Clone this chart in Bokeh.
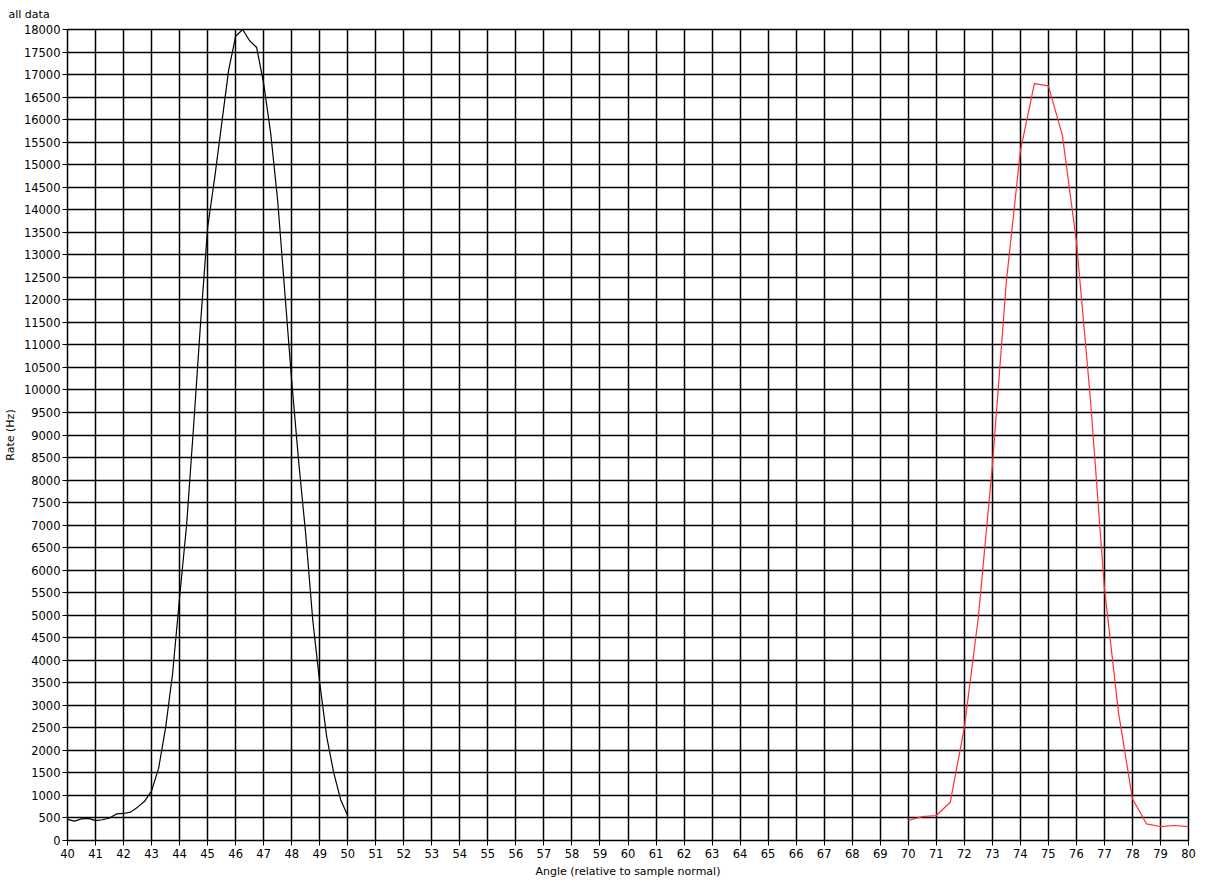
from bokeh.plotting import figure
from bokeh.models import Range1d, FixedTicker
from bokeh.embed import file_html
from bokeh.resources import INLINE

# Black series (first scan)
black_angle = [40.00, 40.25, 40.50, 40.75, 41.00, 41.25, 41.50, 41.75, 42.00, 42.25,
               42.50, 42.75, 43.00, 43.25, 43.50, 43.75, 44.00, 44.25, 44.50, 44.75,
               45.00, 45.25, 45.50, 45.75, 46.00, 46.25, 46.50, 46.75, 47.00, 47.25,
               47.50, 47.75, 48.00, 48.25, 48.50, 48.75, 49.00, 49.25, 49.50, 49.75, 50.00]
black_rate = [470, 430, 480, 490, 440, 460, 500, 590, 600, 630,
              740, 870, 1100, 1600, 2500, 3700, 5400, 7000, 9200, 11500,
              13600, 14700, 15900, 17100, 17850, 18000, 17750, 17600, 16800, 15700,
              14200, 12200, 10200, 8400, 6800, 4900, 3500, 2300, 1500, 900, 550]

# Red series (second scan)
red_angle = [70.0, 70.5, 71.0, 71.5, 72.0, 72.5, 73.0, 73.5, 74.0, 74.5,
             75.0, 75.5, 76.0, 76.5, 77.0, 77.5, 78.0, 78.5, 79.0, 79.5, 80.0]
red_rate = [444, 530, 555, 850, 2500, 4950, 8300, 12400, 15300, 16800,
            16750, 15650, 13300, 9800, 5600, 2850, 925, 370, 310, 333, 310]

x_ticks = list(range(40, 81))
y_ticks = list(range(0, 18001, 500))

FONT = "DejaVu Sans"

p = figure(width=1212, height=883, output_backend="svg", toolbar_location=None,
           x_range=Range1d(40, 80), y_range=Range1d(0, 18000),
           min_border_left=67, min_border_right=24, min_border_top=29, min_border_bottom=43,
           title="all data")

p.title.text_font = FONT
p.title.text_font_size = "11px"
p.title.text_font_style = "normal"
p.title.text_color = "black"
p.title.offset = -59
p.title.standoff = 14
p.title.vertical_align = "top"

p.background_fill_color = "white"
p.border_fill_color = "white"
p.outline_line_color = "black"
p.outline_line_width = 1.5

p.xaxis.ticker = FixedTicker(ticks=x_ticks)
p.yaxis.ticker = FixedTicker(ticks=y_ticks)
p.xgrid.ticker = FixedTicker(ticks=x_ticks)
p.ygrid.ticker = FixedTicker(ticks=y_ticks)

for g in (p.xgrid, p.ygrid):
    g.grid_line_color = "black"
    g.grid_line_width = 1.5
    g.grid_line_alpha = 1.0

for ax in (p.xaxis, p.yaxis):
    ax.axis_line_color = "black"
    ax.major_tick_line_color = "black"
    ax.minor_tick_line_color = None
    ax.major_tick_out = 5
    ax.major_tick_in = 0
    ax.major_label_text_font = FONT
    ax.major_label_text_font_size = "11.5px"
    ax.major_label_text_color = "black"
    ax.axis_label_text_font = FONT
    ax.axis_label_text_font_size = "11px"
    ax.axis_label_text_font_style = "normal"
    ax.axis_label_text_color = "black"

p.xaxis.axis_label = "Angle (relative to sample normal)"
p.yaxis.axis_label = "Rate (Hz)"
p.xaxis.major_label_standoff = 3
p.yaxis.major_label_standoff = 2
p.xaxis.axis_label_standoff = 4
p.yaxis.axis_label_standoff = 4

p.line(black_angle, black_rate, line_color="black", line_width=1.2)
p.line(red_angle, red_rate, line_color="#ff3030", line_width=1.2)

open("out.html", "w").write(file_html(p, INLINE))
